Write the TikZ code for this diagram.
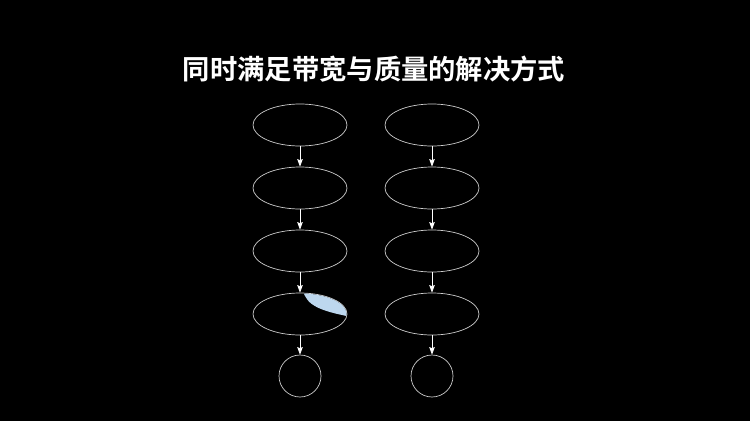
\documentclass[tikz,border=0pt]{standalone}
\usepackage{fontspec}
\newfontfamily\cjk{Noto Sans CJK SC}[BoldFont={Noto Sans CJK SC Bold}]
\usepackage{tikz}
\usetikzlibrary{shapes,arrows,arrows.meta}
\definecolor{lensblue}{RGB}{189,215,238}
\definecolor{outline}{RGB}{205,205,205}

\begin{document}
\begin{tikzpicture}[x=1pt,y=-1pt,
  stage/.style={ellipse,draw=outline,line width=0.7pt,minimum width=94pt,minimum height=42pt,inner sep=0pt},
  stop/.style={circle,draw=outline,line width=0.7pt,minimum size=42pt,inner sep=0pt},
  flow/.style={-{Stealth[length=7.5pt,width=5.5pt,inset=1pt]},white,line width=0.8pt}]

% to fix the page
\fill [black] (0,0) rectangle (750,421);
\useasboundingbox (0,0) rectangle (750,421);

% to write title
\node (title) at (374,69) {\cjk\bfseries\fontsize{27.3pt}{32pt}\selectfont\color{white}同时满足带宽与质量的解决方式};

%left side:
\node [stage] (l1) at (300,125) {};
\node [stage] (l2) at (300,188) {};
\node [stage] (l3) at (300,251) {};
\node [stage] (l4) at (300,314) {};
\node [stop] (l5) at (300,376) {};

%right side:
\node [stage] (r1) at (432,125) {};
\node [stage] (r2) at (432,188) {};
\node [stage] (r3) at (432,251) {};
\node [stage] (r4) at (432,314) {};
\node [stop] (r5) at (432,376) {};

% to draw blue part on fourth stage
\begin{scope}
\clip (l4.center) ellipse (46.6 and 20.6);
\fill [lensblue] (303,290) .. controls (306,306) and (322,311) .. (349,316.5) -- (360,280) -- cycle;
\end{scope}

% to draw arrows
\draw [flow] (l1.south) -- (l2.north);
\draw [flow] (l2.south) -- (l3.north);
\draw [flow] (l3.south) -- (l4.north);
\draw [flow] (l4.south) -- (l5.north);
\draw [flow] (r1.south) -- (r2.north);
\draw [flow] (r2.south) -- (r3.north);
\draw [flow] (r3.south) -- (r4.north);
\draw [flow] (r4.south) -- (r5.north);
\end{tikzpicture}
\end{document}
